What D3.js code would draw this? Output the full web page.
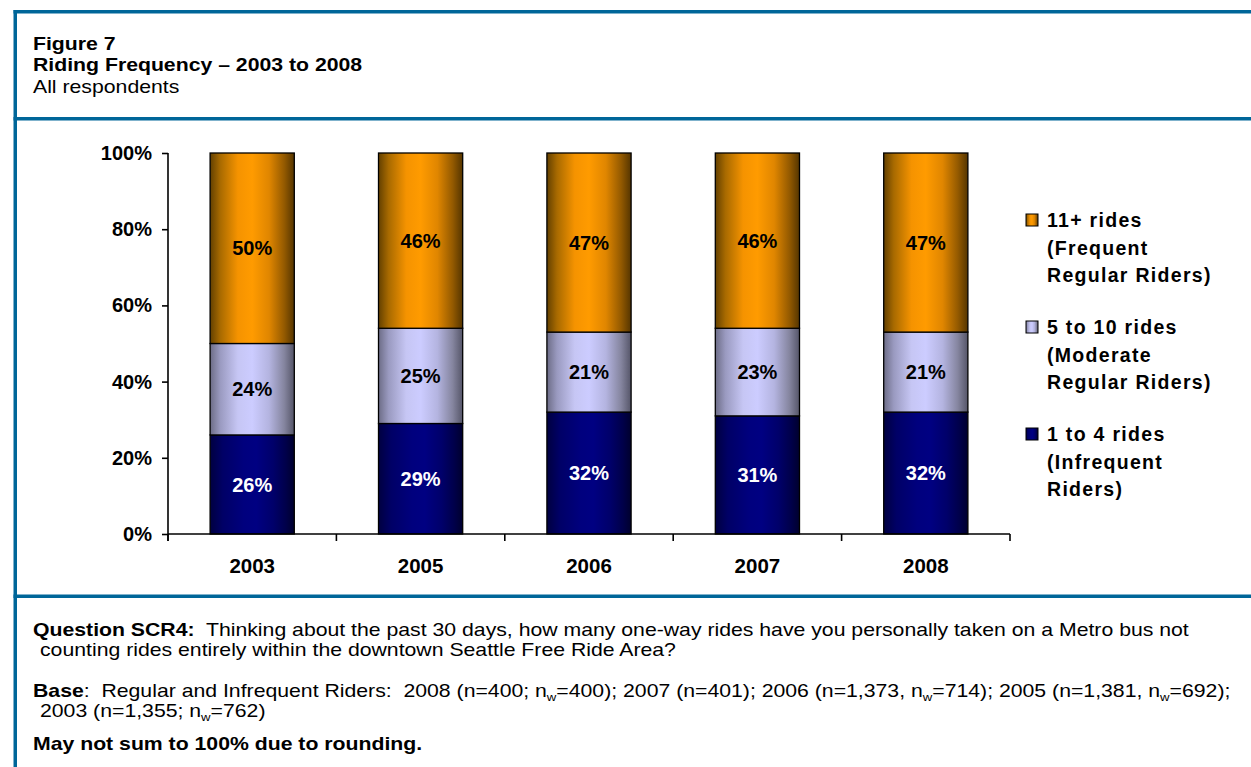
<!DOCTYPE html>
<html><head><meta charset="utf-8">
<script src="https://cdn.jsdelivr.net/npm/d3@7"></script>
<style>
body{margin:0;background:#fff}
svg{display:block}
text{font-family:"Liberation Sans",Arial,Helvetica,sans-serif}
</style>
</head><body>
<svg id="c" width="1251" height="767"></svg>
<script>
// ---- data ----
const years = ["2003","2005","2006","2007","2008"];
const seriesKeys = ["infrequent","moderate","frequent"];
const infrequent = [26,29,32,31,32];   // 1 to 4 rides
const moderate   = [24,25,21,23,21];   // 5 to 10 rides
const frequent   = [50,46,47,46,47];   // 11+ rides
const yTicks = [0,20,40,60,80,100];
const legendEntries = [
  {key:"frequent",  lines:["11+ rides","(Frequent","Regular Riders)"]},
  {key:"moderate",  lines:["5 to 10 rides","(Moderate","Regular Riders)"]},
  {key:"infrequent",lines:["1 to 4 rides","(Infrequent","Riders)"]}
];
const titleLines = ["Figure 7","Riding Frequency \u2013 2003 to 2008","All respondents"];

const rows = years.map((y,i)=>({year:y, infrequent:infrequent[i], moderate:moderate[i], frequent:frequent[i]}));

const svg = d3.select("#c");
const BLUE = "#006699";
svg.append("rect").attr("width",1251).attr("height",767).attr("fill","#fff");

// ---- gradients ----
const grads = {
  frequent:[[0,"#634000"],[0.12,"#a86a00"],[0.33,"#f59300"],[0.5,"#ff9b00"],[0.7,"#e08600"],[0.88,"#945a00"],[1,"#553500"]],
  moderate:[[0,"#6c6c86"],[0.12,"#9a9ac0"],[0.33,"#c6c6f4"],[0.5,"#ccccff"],[0.7,"#b4b4e0"],[0.88,"#85859f"],[1,"#555568"]],
  infrequent:[[0,"#000040"],[0.15,"#000066"],[0.4,"#00007e"],[0.55,"#000082"],[0.75,"#00006a"],[0.9,"#00004a"],[1,"#00002e"]]
};
const defs = svg.append("defs");
Object.entries(grads).forEach(([k,stops])=>{
  const g = defs.append("linearGradient").attr("id","g_"+k).attr("x1",0).attr("x2",1).attr("y1",0).attr("y2",0);
  stops.forEach(s=>g.append("stop").attr("offset",s[0]).attr("stop-color",s[1]));
});
const labelColor = {frequent:"#000", moderate:"#000", infrequent:"#fff"};

// ---- frame ----
svg.append("rect").attr("x",13.5).attr("y",10).attr("width",1251-13.5).attr("height",3.5).attr("fill",BLUE);
svg.append("rect").attr("x",13.5).attr("y",117).attr("width",1251-13.5).attr("height",3.5).attr("fill",BLUE);
svg.append("rect").attr("x",13.5).attr("y",594.5).attr("width",1251-13.5).attr("height",3.5).attr("fill",BLUE);
svg.append("rect").attr("x",13.5).attr("y",10).attr("width",3.5).attr("height",767-10).attr("fill",BLUE);

// ---- document text (horizontally stretched like the reference) ----
const SX = 1.18;
function docText(x, y, parts, size){
  const g = svg.append("g").attr("transform",`translate(${x},${y}) scale(${SX},1)`);
  const t = g.append("text").attr("font-size",size).attr("fill","#000");
  parts.forEach(p=>{
    const ts = t.append("tspan").text(p.t);
    if(p.b) ts.attr("font-weight","bold");
    if(p.sub){ ts.attr("font-size",size*0.62).attr("dy",3.5); }
    if(p.up){ ts.attr("dy",-3.5); }
  });
  return t;
}
docText(33,49.5,[{t:titleLines[0],b:1}],18);
docText(33,71,[{t:titleLines[1],b:1}],18);
docText(33,92.5,[{t:titleLines[2]}],18);

docText(33,636,[{t:"Question SCR4:",b:1},{t:"\u00a0 Thinking about the past 30 days, how many one-way rides have you personally taken on a Metro bus not"}],18);
docText(40,656,[{t:"counting rides entirely within the downtown Seattle Free Ride Area?"}],18);
docText(33,697,[{t:"Base",b:1},{t:":\u00a0 Regular and Infrequent Riders:\u00a0 2008 (n=400; "},{t:"n"},{t:"w",sub:1},{t:"=400); 2007 (n=401); 2006 (n=1,373, ",up:1},{t:"n"},{t:"w",sub:1},{t:"=714); 2005 (n=1,381, ",up:1},{t:"n"},{t:"w",sub:1},{t:"=692);",up:1}],18);
docText(40,717,[{t:"2003 (n=1,355; "},{t:"n"},{t:"w",sub:1},{t:"=762)",up:1}],18);
docText(33,750,[{t:"May not sum to 100% due to rounding.",b:1}],18);

// ---- chart ----
const x = d3.scaleBand().domain(years).range([168,1010]).paddingInner(0.5).paddingOuter(0.25);
const y = d3.scaleLinear().domain([0,100]).range([534,153]);
const stack = d3.stack().keys(seriesKeys)(rows);

const layers = svg.append("g").selectAll("g").data(stack).join("g")
  .attr("fill",d=>`url(#g_${d.key})`);
layers.selectAll("rect").data(d=>d.map(v=>Object.assign(v,{key:d.key}))).join("rect")
  .attr("x",d=>x(d.data.year)).attr("width",x.bandwidth())
  .attr("y",d=>y(d[1])).attr("height",d=>y(d[0])-y(d[1]))
  .attr("stroke","#000").attr("stroke-width",1.3);

const lbl = svg.append("g").attr("font-size",20).attr("font-weight","bold").attr("text-anchor","middle");
stack.forEach(layer=>{
  layer.forEach(d=>{
    lbl.append("text").attr("x",x(d.data.year)+x.bandwidth()/2)
      .attr("y",y((d[0]+d[1])/2)).attr("dy","0.36em")
      .attr("fill",labelColor[layer.key]).text((d[1]-d[0])+"%");
  });
});

// y axis
const yAxis = svg.append("g").attr("transform","translate(168,0)")
  .call(d3.axisLeft(y).tickValues(yTicks).tickFormat(d=>d+"%").tickSize(6).tickPadding(10));
yAxis.select(".domain").attr("stroke","#000").attr("stroke-width",1.6).attr("d","M0,153V541");
yAxis.selectAll(".tick line").attr("stroke","#000").attr("stroke-width",1.6);
yAxis.selectAll(".tick text").attr("font-size",20).attr("font-weight","bold").attr("fill","#000")
  .attr("font-family","'Liberation Sans',Arial,sans-serif");

// x axis
const xg = svg.append("g");
xg.append("line").attr("x1",168).attr("x2",1010).attr("y1",y(0)).attr("y2",y(0)).attr("stroke","#000").attr("stroke-width",1.6);
const step = x.step();
const bounds = years.map(yr=>x(yr)-x.paddingOuter()*step).concat([x(years[years.length-1])+x.bandwidth()+x.paddingOuter()*step]);
xg.selectAll("line.t").data(bounds).join("line").attr("class","t")
  .attr("x1",d=>d).attr("x2",d=>d).attr("y1",y(0)).attr("y2",y(0)+7).attr("stroke","#000").attr("stroke-width",1.6);
xg.selectAll("text").data(years).join("text")
  .attr("x",d=>x(d)+x.bandwidth()/2).attr("y",573)
  .attr("text-anchor","middle").attr("font-size",20.5).attr("font-weight","bold").text(d=>d);

// legend
const lg = svg.append("g");
legendEntries.forEach((e,i)=>{
  const oy = 227 + i*107;
  lg.append("rect").attr("x",1026).attr("y",oy-13).attr("width",12).attr("height",12)
    .attr("fill",`url(#g_${e.key})`).attr("stroke","#000").attr("stroke-width",1);
  e.lines.forEach((ln,j)=>{
    lg.append("text").attr("x",1047).attr("y",oy+j*27.5).attr("font-size",19.5)
      .attr("font-weight","bold").attr("letter-spacing",1.3).text(ln);
  });
});
</script>
</body></html>
